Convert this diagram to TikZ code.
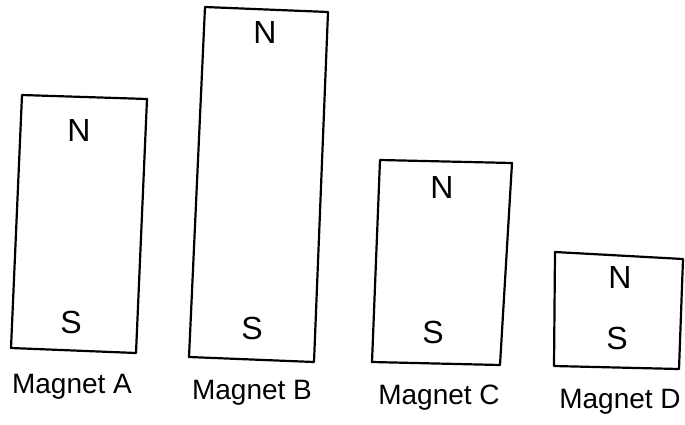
\documentclass[tikz,border=0pt]{standalone}
\usepackage{fontspec}
\setmainfont{Liberation Sans}
\begin{document}
\begin{tikzpicture}[x=0.5pt, y=-0.5pt, line width=1.1pt, line join=round,
    polo/.style={font=\fontsize{16}{18}\selectfont},
    nome/.style={font=\fontsize{14}{16}\selectfont}]
    \useasboundingbox (0,0) rectangle (685,424);

    % Magnete A
    \draw (22,95) -- (147,99) -- (136,353) -- (11,348) -- cycle;
    \node[polo] (nA) at (79,130) {N};
    \node[polo] (sA) at (71,322) {S};
    \node[nome] (lA) at (72,387) {Magnet A};

    % Magnete B
    \draw (205,7) -- (328,12) -- (314,362) -- (189,357) -- cycle;
    \node[polo] (nB) at (265,32) {N};
    \node[polo] (sB) at (252,328) {S};
    \node[nome] (lB) at (252,393) {Magnet B};

    % Magnete C
    \draw (380,160) -- (512,163) -- (500,365) -- (372,362) -- cycle;
    \node[polo] (nC) at (442,187) {N};
    \node[polo] (sC) at (433,332) {S};
    \node[nome] (lC) at (439,398) {Magnet C};

    % Magnete D
    \draw (555,252) -- (683,259) -- (679,369) -- (554,366) -- cycle;
    \node[polo] (nD) at (620,277) {N};
    \node[polo] (sD) at (617,338) {S};
    \node[nome] (lD) at (620,402) {Magnet D};
\end{tikzpicture}
\end{document}
